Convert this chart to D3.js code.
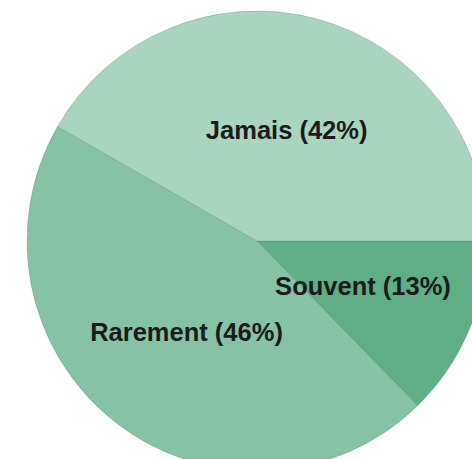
<!DOCTYPE html>
<html>
<head>
<meta charset="utf-8">
<script src="https://cdn.jsdelivr.net/npm/d3@7"></script>
<style>
html,body{margin:0;padding:0;background:#fff;}
svg{display:block;}
</style>
</head>
<body>
<svg id="chart" width="472" height="459"></svg>
<script>
const categories = ["Souvent", "Rarement", "Jamais"];
const values = [12.7, 45.6, 41.7];
const labels = ["Souvent (13%)", "Rarement (46%)", "Jamais (42%)"];
const colors = ["#5fae86", "#86c2a5", "#a9d4bf"];

const svg = d3.select("#chart");
const cx = 257, cy = 241, r = 230;
const g = svg.append("g").attr("transform", `translate(${cx},${cy})`);

const data = categories.map((c, i) => ({ name: c, value: values[i], label: labels[i], color: colors[i] }));
const pie = d3.pie().sort(null).value(d => d.value)
  .startAngle(Math.PI / 2).endAngle(Math.PI / 2 + 2 * Math.PI);
const arc = d3.arc().innerRadius(0).outerRadius(r);

const arcs = pie(data);
g.selectAll("path").data(arcs).enter().append("path")
  .attr("d", arc)
  .attr("fill", d => d.data.color)
  .attr("stroke", "rgba(60,110,85,0.25)")
  .attr("stroke-width", 1);

g.selectAll("text").data(arcs).enter().append("text")
  .attr("transform", d => `translate(${arc.centroid(d)})`)
  .attr("text-anchor", "middle")
  .attr("dy", "0.36em")
  .attr("font-family", "'Liberation Sans', Arial, sans-serif")
  .attr("font-weight", "bold")
  .attr("font-size", 25.5)
  .attr("fill", "#1b1b1b")
  .text(d => d.data.label);
</script>
</body>
</html>
